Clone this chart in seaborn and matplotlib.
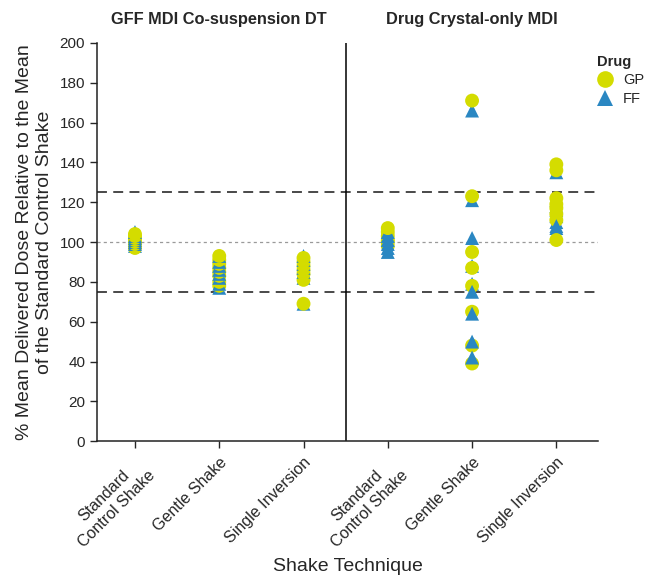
import matplotlib
matplotlib.use("Agg")
import matplotlib.pyplot as plt
import seaborn as sns
import pandas as pd

# ---- data ----
categories = ["Standard\nControl Shake", "Gentle Shake", "Single Inversion",
              "Standard\nControl Shake ", "Gentle Shake ", "Single Inversion "]
panel_titles = ["GFF MDI Co-suspension DT", "Drug Crystal-only MDI"]
drugs = ["GP", "FF"]

gp_values = [
    [97, 99, 100, 101, 102, 103, 104],
    [78, 80, 83, 85, 87, 89, 91, 93],
    [69, 81, 84, 86, 88, 90, 92],
    [98, 100, 101, 103, 105, 107],
    [171, 123, 95, 87, 78, 65, 48, 39],
    [139, 136, 122, 119, 117, 114, 111, 101],
]
ff_values = [
    [98, 99, 100, 101, 102, 103, 105],
    [77, 79, 82, 84, 86, 88, 90, 93],
    [69, 82, 85, 87, 89, 91, 93],
    [95, 97, 99, 101, 103, 105],
    [166, 121, 102, 88, 79, 75, 64, 50, 42],
    [135, 121, 118, 116, 113, 110, 107, 108],
]

rows = []
for ci, cat in enumerate(categories):
    g = gp_values[ci]
    f = ff_values[ci]
    n = max(len(g), len(f))
    for k in range(n):
        if k < len(f):
            rows.append({"x": ci, "Value": f[k], "Drug": "FF"})
        if k < len(g):
            rows.append({"x": ci, "Value": g[k], "Drug": "GP"})
df = pd.DataFrame(rows)

sns.set_style("ticks")
plt.rcParams["font.family"] = ["Liberation Sans", "DejaVu Sans"]

fig = plt.figure(figsize=(6.47, 5.79), dpi=100)
ax = fig.add_axes([0.150, 0.238, 0.775, 0.688])

palette = {"GP": "#d4dc00", "FF": "#2a87c2"}
markers = {"GP": "o", "FF": "^"}
sns.scatterplot(data=df, x="x", y="Value", hue="Drug", style="Drug",
                hue_order=drugs, style_order=drugs, palette=palette,
                markers=markers, s=100, linewidth=0, ax=ax, zorder=3)

ax.axhline(125, color="#3a3a3a", lw=1.3, ls=(0, (5.5, 3.5)), zorder=1)
ax.axhline(75, color="#3a3a3a", lw=1.3, ls=(0, (5.5, 3.5)), zorder=1)
ax.axhline(100, color="#9a9a9a", lw=0.9, ls=(0, (2.5, 2.5)), zorder=1)
ax.plot([2.5, 2.5], [0, 200], color="black", lw=1.1, zorder=2)

ax.set_xlim(-0.45, 5.5)
ax.set_ylim(0, 200)
ax.set_yticks(range(0, 201, 20))
ax.set_xticks(range(len(categories)))
ax.set_xticklabels([c.strip() for c in categories], rotation=45, ha="right",
                   rotation_mode="anchor", multialignment="center", fontsize=11.5)
ax.tick_params(axis="y", labelsize=11, length=5, width=1)
ax.tick_params(axis="x", length=5, width=1, pad=5)
sns.despine(ax=ax)
for sp in ["left", "bottom"]:
    ax.spines[sp].set_linewidth(1.1)
    ax.spines[sp].set_color("#222222")

ax.set_xlabel("Shake Technique", fontsize=14, labelpad=6)
ax.set_ylabel("% Mean Delivered Dose Relative to the Mean\nof the Standard Control Shake",
              fontsize=14, labelpad=5)

ax.text(1, 208, panel_titles[0], ha="center", va="bottom", fontsize=11.8,
        fontweight="bold", transform=ax.transData)
ax.text(4, 208, panel_titles[1], ha="center", va="bottom", fontsize=11.8,
        fontweight="bold", transform=ax.transData)

handles, labels = ax.get_legend_handles_labels()
if ax.get_legend() is not None:
    ax.get_legend().remove()
hl = [(h, l) for h, l in zip(handles, labels) if l in drugs]
order = {"GP": 0, "FF": 1}
hl.sort(key=lambda t: order[t[1]])
leg = fig.legend([h for h, _ in hl], [l for _, l in hl], title="Drug",
                 frameon=False, loc="upper left", bbox_to_anchor=(0.922, 0.905),
                 fontsize=10.5, title_fontsize=10.5, handletextpad=0.6,
                 handlelength=1.2, borderaxespad=0, borderpad=0,
                 labelspacing=0.3, markerscale=1.2)
leg.get_title().set_fontweight("bold")
leg._legend_box.align = "left"

fig.savefig("out.png", dpi=100)
